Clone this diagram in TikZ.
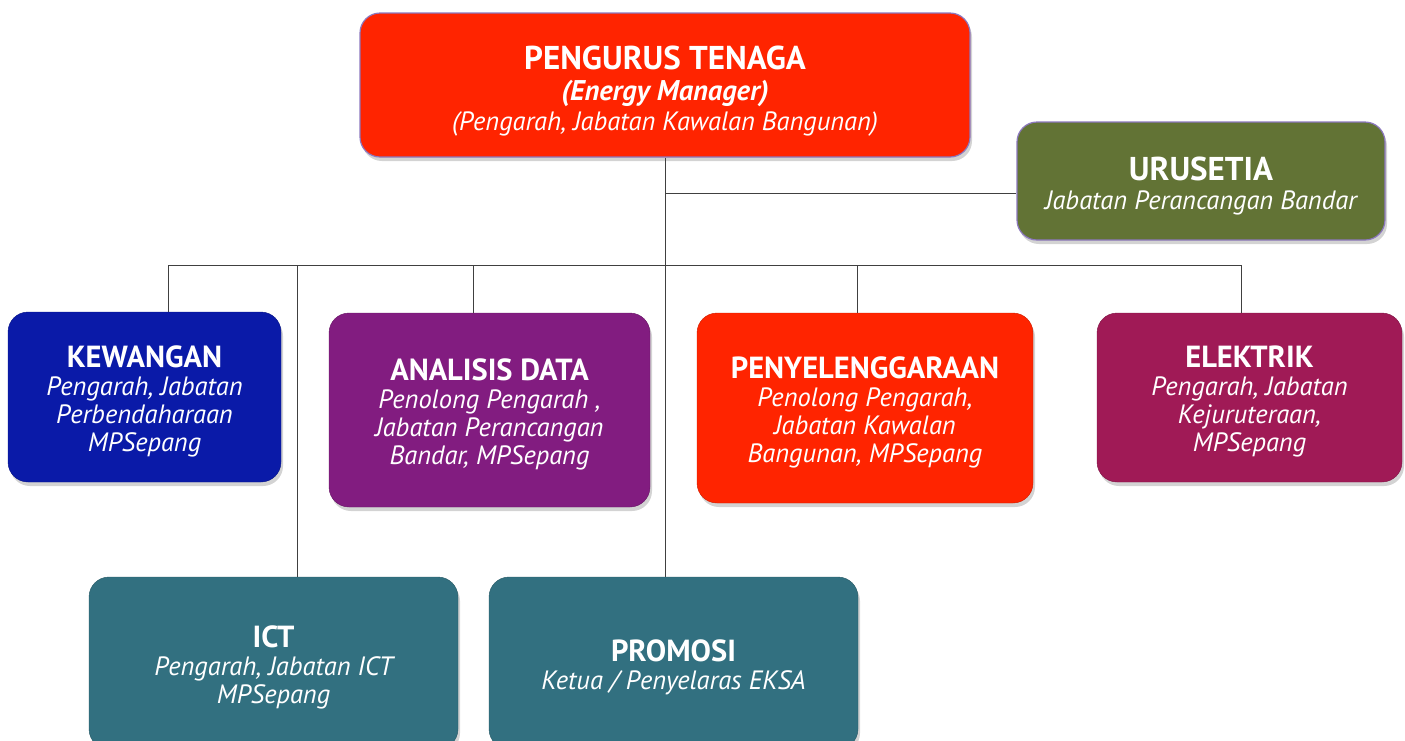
\documentclass[tikz,border=0pt]{standalone}
\usepackage{fontspec}
\setmainfont{PT Sans}
\usepackage{tikz}
\usetikzlibrary{positioning, calc, shadows}
\definecolor{merahku}{RGB}{255,36,0}
\definecolor{hijauku}{RGB}{98,115,53}
\definecolor{biruku}{RGB}{10,26,168}
\definecolor{unguku}{RGB}{130,28,128}
\definecolor{marunku}{RGB}{160,26,86}
\definecolor{tealku}{RGB}{50,112,128}
\definecolor{garisku}{RGB}{64,64,64}
\definecolor{tepiku}{RGB}{140,120,190}
\newcommand{\tajuk}[2][30.5]{{\upshape\bfseries\fontsize{#1}{30}\selectfont\rule{0pt}{#1pt}#2}}
\tikzset{kotak/.style={rounded corners=20pt, align=center, text=white, inner sep=0pt, font=\itshape\fontsize{26.5}{28}\selectfont, drop shadow={shadow xshift=2pt, shadow yshift=-4pt, opacity=0.35}}, garis/.style={draw=garisku, line width=1pt}}

\begin{document}
\begin{tikzpicture}[x=1pt,y=-1pt]
	\useasboundingbox (0,0) rectangle (1405,740);
	%kotak atas
	\node [kotak, fill=merahku, draw=tepiku, line width=1.2pt, minimum width=610pt, minimum height=144pt] (pengurus) at (665,85) {\tajuk[33]{\rule{0pt}{35pt}PENGURUS TENAGA}\\[3pt] {\bfseries\fontsize{28.5}{28}\selectfont (Energy Manager)}\\[2pt] (Pengarah, Jabatan Kawalan Bangunan)};
	\node [kotak, fill=hijauku, draw=tepiku, line width=1.2pt, minimum width=368pt, minimum height=118pt] (urusetia) at (1201,181) {\tajuk[33]{URUSETIA}\\[1pt] Jabatan Perancangan Bandar};
	%kotak bahagian
	\node [kotak, fill=biruku, draw=biruku!80!black, minimum width=273pt, minimum height=170pt] (kewangan) at (144.5,397) {\tajuk{KEWANGAN}\\ Pengarah, Jabatan\\ Perbendaharaan\\ MPSepang};
	\node [kotak, fill=unguku, draw=unguku!80!black, minimum width=321pt, minimum height=194pt] (analisis) at (489.5,410) {\tajuk{ANALISIS DATA}\\ Penolong Pengarah ,\\ Jabatan Perancangan\\ Bandar, MPSepang};
	\node [kotak, fill=merahku, draw=merahku!80!black, minimum width=336pt, minimum height=190pt] (penyeleng) at (865,408) {\tajuk{PENYELENGGARAAN}\\ Penolong Pengarah,\\ Jabatan Kawalan\\ Bangunan, MPSepang};
	\node [kotak, fill=marunku, draw=marunku!80!black, minimum width=305pt, minimum height=169pt] (elektrik) at (1249.5,397.5) {\tajuk{ELEKTRIK}\\ Pengarah, Jabatan\\ Kejuruteraan,\\ MPSepang};
	\node [kotak, fill=tealku, draw=tealku!80!black, minimum width=369pt, minimum height=172pt] (ict) at (273.5,663) {\tajuk{ICT}\\ Pengarah, Jabatan ICT\\ MPSepang};
	\node [kotak, fill=tealku, draw=tealku!80!black, minimum width=369pt, minimum height=172pt] (promosi) at (673.5,663) {\tajuk{PROMOSI}\\ Ketua / Penyelaras EKSA};
	%garisan
	\coordinate (simpang) at (665,193);
	\coordinate (busKiri) at (168,265);
	\coordinate (busKanan) at (1241,265);
	\draw [garis] (pengurus.south) -- (pengurus.south |- promosi.north);
	\draw [garis] (simpang) -- (simpang -| urusetia.west);
	\draw [garis] (busKiri) -- (busKanan);
	\foreach \x/\bhg in {168/kewangan, 297/ict, 473/analisis, 857/penyeleng, 1241/elektrik}{
		\coordinate (t\bhg) at (\x,265);
		\draw [garis] (t\bhg) -- (t\bhg |- \bhg.north);
	}
\end{tikzpicture}
\end{document}
